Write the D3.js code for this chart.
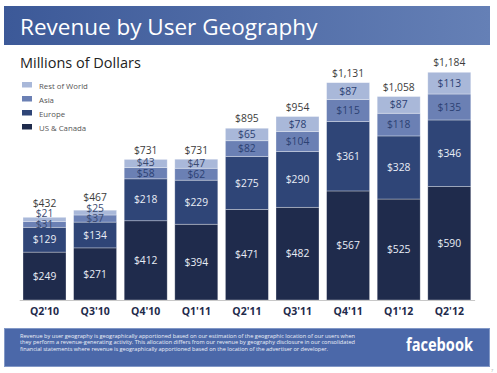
<!DOCTYPE html>
<html><head><meta charset="utf-8">
<script src="https://cdn.jsdelivr.net/npm/d3@7"></script>
<style>
html,body{margin:0;padding:0;background:#fff;}
svg{display:block;font-family:"Open Sans",sans-serif;}
</style></head>
<body><svg id="chart" width="497" height="373"></svg>
<script>
const categories = ["Q2'10","Q3'10","Q4'10","Q1'11","Q2'11","Q3'11","Q4'11","Q1'12","Q2'12"];
const usCanada   = [249,271,412,394,471,482,567,525,590];
const europe     = [129,134,218,229,275,290,361,328,346];
const asia       = [31,37,58,62,82,104,115,118,135];
const restWorld  = [21,25,43,47,65,78,87,87,113];
const totals     = [432,467,731,731,895,954,1131,1058,1184];
const seriesNames = ["US & Canada","Europe","Asia","Rest of World"];
const seriesKeys = ["us","eu","asia","row"];
const colors = ["#1f2b4c","#2f4577","#6b80b4","#a9b8d9"];
const labelColors = ["#e9edf6","#e9edf6","#2c4173","#2c4173"];

const svg = d3.select("#chart");
const defs = svg.append("defs");
const grad = defs.append("linearGradient").attr("id","hdr").attr("x1","0").attr("x2","1");
grad.append("stop").attr("offset","0").attr("stop-color","#3c5998");
grad.append("stop").attr("offset","1").attr("stop-color","#6580b6");

// header
svg.append("rect").attr("x",4).attr("y",6).attr("width",486).attr("height",39).attr("fill","url(#hdr)");
svg.append("text").attr("x",20).attr("y",35).attr("fill","#fff").attr("font-size",22.5)
  .text("Revenue by User Geography");
svg.append("text").attr("x",20).attr("y",68).attr("fill","#222").attr("font-size",14.5)
  .text("Millions of Dollars");

// data table
const data = categories.map((c,i)=>({cat:c, us:usCanada[i], eu:europe[i], asia:asia[i], row:restWorld[i], total:totals[i]}));
const stack = d3.stack().keys(seriesKeys)(data);

const x = d3.scaleBand().domain(categories).range([19.2,474.6]).paddingInner(0.15).paddingOuter(0.075);
const y = d3.scaleLinear().domain([0,1200]).range([300,69.2]);

// bars
const layers = svg.append("g").selectAll("g").data(stack).join("g").attr("fill",(d,i)=>colors[i]);
layers.selectAll("rect").data(d=>d).join("rect")
  .attr("x",d=>x(d.data.cat)).attr("width",x.bandwidth())
  .attr("y",d=>y(d[1])).attr("height",d=>y(d[0])-y(d[1]))
  .attr("stroke","rgba(255,255,255,0.45)").attr("stroke-width",0.7);

// axis
const ax = svg.append("g").attr("transform","translate(0,300)")
  .call(d3.axisBottom(x).tickSize(0).tickPadding(8));
ax.select(".domain").attr("stroke","#c8c8c8").attr("stroke-width",1);
ax.selectAll("text").attr("font-family","'Open Sans',sans-serif").attr("font-weight","bold")
  .attr("font-size",10.5).attr("fill","#1f2b4c");

// segment labels
const lbl = svg.append("g").attr("font-size",10.3).attr("text-anchor","middle");
data.forEach((d,i)=>{
  let prevY = Infinity;
  stack.forEach((s,k)=>{
    const seg = s[i];
    let cy = (y(seg[0])+y(seg[1]))/2;
    cy = Math.min(cy, prevY - 10.5);
    prevY = cy;
    const small = (y(seg[0])-y(seg[1])) < 10;
    lbl.append("text").attr("x",x(d.cat)+x.bandwidth()/2).attr("y",cy).attr("dy","0.35em")
      .attr("fill", small ? "#3a4a70" : labelColors[k]).text("$"+d3.format(",")(seg.data[seriesKeys[k]]));
  });
  const ty = Math.min(y(d.total)-9.5, prevY - 10.5);
  lbl.append("text").attr("x",x(d.cat)+x.bandwidth()/2).attr("y",ty).attr("dy","0.35em")
    .attr("fill","#3c3c3c").text("$"+d3.format(",")(d.total));
});

// legend
const legOrder = [3,2,1,0];
const leg = svg.append("g");
legOrder.forEach((k,j)=>{
  leg.append("rect").attr("x",22).attr("y",82+j*14).attr("width",10).attr("height",5.5).attr("fill",colors[k]);
  leg.append("text").attr("x",39).attr("y",86+j*14).attr("dy","0.35em").attr("font-size",7.8)
    .attr("fill","#555").text(seriesNames[k]);
});

// footer
svg.append("rect").attr("x",4.5).attr("y",328.5).attr("width",485).attr("height",38)
  .attr("fill","#4b68a9").attr("stroke","#8298c6").attr("stroke-width",1);
const foot = ["Revenue by user geography is geographically apportioned based on our estimation of the geographic location of our users when",
"they perform a revenue-generating activity. This allocation differs from our revenue by geography disclosure in our consolidated",
"financial statements where revenue is geographically apportioned based on the location of the advertiser or developer."];
const fl = [335,335,308];
foot.forEach((t,i)=>{
  svg.append("text").attr("x",20).attr("y",337.5+i*6.8).attr("font-size",5.4).attr("fill","#eef1f8")
    .attr("textLength",fl[i]).attr("lengthAdjust","spacingAndGlyphs").text(t);
});
svg.append("text").attr("x",406).attr("y",351).attr("font-size",17).attr("font-weight","bold")
  .attr("fill","#fff").attr("textLength",67).attr("lengthAdjust","spacingAndGlyphs").text("facebook");
svg.append("text").attr("x",491).attr("y",372).attr("font-size",4).attr("fill","#999").text("7");
</script></body></html>
